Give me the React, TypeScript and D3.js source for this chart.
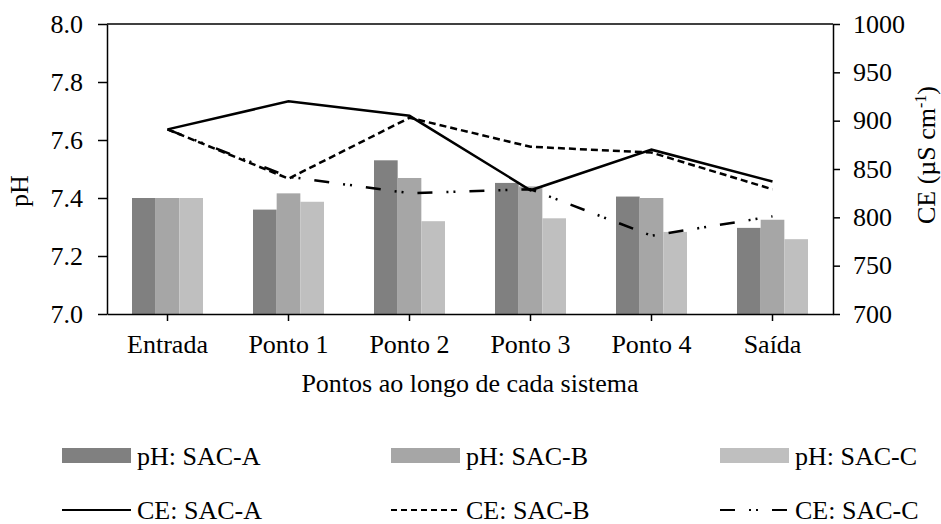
import React, { useEffect, useRef } from "react";
import * as d3 from "d3";

const categories = ["Entrada", "Ponto 1", "Ponto 2", "Ponto 3", "Ponto 4", "Saída"];
const systems = ["SAC-A", "SAC-B", "SAC-C"];

// pH per point (bars)
const phA = [7.4, 7.36, 7.53, 7.452, 7.405, 7.297];
const phB = [7.4, 7.416, 7.469, 7.44, 7.4, 7.325];
const phC = [7.4, 7.387, 7.32, 7.33, 7.283, 7.258];

// CE per point (lines), µS cm-1
const ceA = [891, 920, 905, 828, 870, 837];
const ceB = [891, 840, 903, 873, 867, 829];
const ceC = [891, 842, 825, 829, 781, 801];

const phTicks = [7.0, 7.2, 7.4, 7.6, 7.8, 8.0];
const ceTicks = [700, 750, 800, 850, 900, 950, 1000];

const barColors = ["#808080", "#a6a6a6", "#bfbfbf"];
const lineDash = ["none", "7,4", "15,14,2,5,2,14"];

const FONT = "Liberation Serif, Tinos, Times New Roman, serif";

export default function App() {
  const ref = useRef<SVGSVGElement>(null);
  const width = 941;
  const height = 524;

  useEffect(() => {
    const svg = d3.select(ref.current);
    svg.selectAll("*").remove();

    const left = 107;
    const right = 833;
    const top = 24;
    const bottom = 314;

    const x = d3.scaleBand().domain(categories).range([left, right]).padding(0);
    const groupW = 71;
    const x1 = d3.scaleBand().domain(systems).range([0, groupW]).padding(0);
    const yPh = d3.scaleLinear().domain([7, 8]).range([bottom, top]);
    const yCe = d3.scaleLinear().domain([700, 1000]).range([bottom, top]);

    const phSeries = [phA, phB, phC];
    const ceSeries = [ceA, ceB, ceC];

    // bars
    phSeries.forEach((vals, si) => {
      svg
        .append("g")
        .selectAll("rect")
        .data(vals)
        .enter()
        .append("rect")
        .attr("x", (_, i) => x(categories[i])! + x.bandwidth() / 2 - groupW / 2 + x1(systems[si])!)
        .attr("y", (d) => yPh(d))
        .attr("width", x1.bandwidth())
        .attr("height", (d) => bottom - yPh(d))
        .attr("fill", barColors[si]);
    });

    // lines
    const line = d3
      .line<number>()
      .x((_, i) => x(categories[i])! + x.bandwidth() / 2)
      .y((d) => yCe(d));

    ceSeries.forEach((vals, si) => {
      svg
        .append("path")
        .datum(vals)
        .attr("fill", "none")
        .attr("stroke", "#000")
        .attr("stroke-width", 2.5)
        .attr("stroke-dasharray", lineDash[si])
        .attr("d", line);
    });

    // top frame
    svg
      .append("line")
      .attr("x1", left)
      .attr("x2", right)
      .attr("y1", top)
      .attr("y2", top)
      .attr("stroke", "#000")
      .attr("stroke-width", 1.5);

    const styleAxis = (g: d3.Selection<SVGGElement, unknown, null, undefined>) => {
      g.attr("font-family", FONT).attr("font-size", 26);
      g.selectAll("path, line").attr("stroke", "#000").attr("stroke-width", 1.5);
      g.selectAll("text").attr("fill", "#000");
    };

    svg
      .append("g")
      .attr("transform", `translate(${left},0)`)
      .call(
        d3
          .axisLeft(yPh)
          .tickValues(phTicks)
          .tickSize(9)
          .tickSizeOuter(0)
          .tickPadding(15)
          .tickFormat((d) => d3.format(".1f")(d as number))
      )
      .call(styleAxis);

    svg
      .append("g")
      .attr("transform", `translate(${right},0)`)
      .call(
        d3
          .axisRight(yCe)
          .tickValues(ceTicks)
          .tickSize(7)
          .tickSizeOuter(0)
          .tickPadding(13)
          .tickFormat((d) => String(d))
      )
      .call(styleAxis);

    svg
      .append("g")
      .attr("transform", `translate(0,${bottom})`)
      .call(d3.axisBottom(x).tickSize(7).tickSizeOuter(0).tickPadding(14))
      .call(styleAxis);

    const labels = svg.append("g").attr("font-family", FONT).attr("font-size", 26);

    // axis titles
    labels
      .append("text")
      .attr("transform", `translate(28,191) rotate(-90)`)
      .attr("text-anchor", "middle")
      .text("pH");

    const ce = labels
      .append("text")
      .attr("transform", `translate(935,155) rotate(-90)`)
      .attr("text-anchor", "middle");
    ce.append("tspan").text("CE (µS cm");
    ce.append("tspan").attr("dy", -9).attr("font-size", 16).text("-1");
    ce.append("tspan").attr("dy", 9).text(")");

    labels
      .append("text")
      .attr("x", (left + right) / 2)
      .attr("y", 392)
      .attr("text-anchor", "middle")
      .text("Pontos ao longo de cada sistema");

    // legend
    const legendX = [62, 391, 720];
    systems.forEach((s, i) => {
      labels
        .append("rect")
        .attr("x", legendX[i])
        .attr("y", 448)
        .attr("width", 69)
        .attr("height", 15)
        .attr("fill", barColors[i]);
      labels
        .append("text")
        .attr("x", legendX[i] + 75)
        .attr("y", 465)
        .text(`pH: ${s}`);
      labels
        .append("line")
        .attr("x1", legendX[i])
        .attr("x2", legendX[i] + 69)
        .attr("y1", 510)
        .attr("y2", 510)
        .attr("stroke", "#000")
        .attr("stroke-width", 2.2)
        .attr("stroke-dasharray", i === 1 ? "6,4" : lineDash[i]);
      labels
        .append("text")
        .attr("x", legendX[i] + 75)
        .attr("y", 519)
        .text(`CE: ${s}`);
    });
  }, []);

  return (
    <svg
      ref={ref}
      width={width}
      height={height}
      style={{ position: "absolute", left: 0, top: 0, background: "#fff" }}
    ></svg>
  );
}
